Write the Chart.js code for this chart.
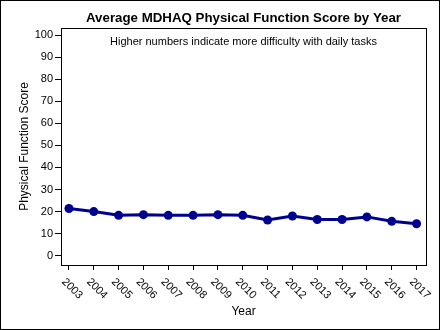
<!DOCTYPE html>
<html>
<head>
<meta charset="utf-8">
<script src="https://cdn.jsdelivr.net/npm/chart.js@4/dist/chart.umd.min.js"></script>
<style>
  html, body { margin: 0; padding: 0; background: #ffffff; }
  #wrap { width: 440px; height: 330px; position: relative; }
</style>
</head>
<body>
<div id="wrap"><canvas id="c" width="440" height="330"></canvas></div>
<script>
// Yearly averages of the MDHAQ physical function score
const years = [2003, 2004, 2005, 2006, 2007, 2008, 2009, 2010, 2011, 2012, 2013, 2014, 2015, 2016, 2017];
const scores = [21.4, 20.0, 18.3, 18.6, 18.3, 18.3, 18.6, 18.3, 16.2, 18.0, 16.4, 16.4, 17.6, 15.6, 14.5];
const yTickValues = [0, 10, 20, 30, 40, 50, 60, 70, 80, 90, 100];

const FONT = '"Liberation Sans", Arial, Helvetica, sans-serif';
const LINE_COLOR = '#000090';

const titleText = 'Average MDHAQ Physical Function Score by Year';
const noteText = 'Higher numbers indicate more difficulty with daily tasks';

// Frame, outer border, titles and slanted year labels
const decorations = {
  id: 'decorations',
  afterDraw(chart) {
    const { ctx, chartArea: a, scales } = chart;
    ctx.save();
    // outer border of the graphic
    ctx.strokeStyle = '#000';
    ctx.lineWidth = 1;
    ctx.strokeRect(0.5, 0.5, chart.width - 1, chart.height - 1);
    // plot frame
    ctx.strokeRect(Math.round(a.left) + 0.5, Math.round(a.top) + 0.5,
                   Math.round(a.right - a.left), Math.round(a.bottom - a.top));
    const cx = (a.left + a.right) / 2;
    ctx.fillStyle = '#000';
    ctx.textAlign = 'center';
    ctx.textBaseline = 'alphabetic';
    ctx.font = 'bold 13.3px ' + FONT;
    ctx.fillText(titleText, cx, 21.5);
    ctx.font = '11px ' + FONT;
    ctx.fillText(noteText, cx, 45);
    // year labels, slanted downward
    ctx.font = '11px ' + FONT;
    ctx.textAlign = 'left';
    ctx.textBaseline = 'middle';
    const xs = scales.x;
    years.forEach(y => {
      const px = xs.getPixelForValue(y);
      ctx.save();
      ctx.translate(px - 5.5, 280);
      ctx.rotate(Math.PI / 4);
      ctx.fillText(String(y), 0, 0);
      ctx.restore();
    });
    ctx.restore();
  }
};

new Chart(document.getElementById('c'), {
  type: 'line',
  data: {
    datasets: [{
      data: years.map((y, i) => ({ x: y, y: scores[i] })),
      borderColor: LINE_COLOR,
      backgroundColor: LINE_COLOR,
      borderWidth: 3,
      pointRadius: 4.5,
      pointBorderWidth: 0,
      pointBackgroundColor: LINE_COLOR,
      tension: 0,
      fill: false
    }]
  },
  options: {
    responsive: false,
    animation: false,
    devicePixelRatio: 1,
    layout: { padding: { top: 28, right: 14, bottom: 1, left: 1 } },
    plugins: {
      legend: { display: false },
      tooltip: { enabled: false },
      title: { display: false }
    },
    scales: {
      x: {
        type: 'linear',
        min: 2002.68,
        max: 2017.38,
        offset: false,
        afterBuildTicks(scale) { scale.ticks = years.map(v => ({ value: v })); },
        afterFit(scale) { scale.height = 64; },
        ticks: { display: false },
        grid: { drawOnChartArea: false, drawTicks: true, tickLength: 5, color: '#000', tickColor: '#000' },
        border: { display: false },
        title: {
          display: true,
          text: 'Year',
          color: '#000',
          font: { family: FONT, size: 12 },
          padding: { top: 0, bottom: 10 }
        }
      },
      y: {
        type: 'linear',
        min: -4.2,
        max: 103.2,
        afterBuildTicks(scale) { scale.ticks = yTickValues.map(v => ({ value: v })); },
        afterFit(scale) { scale.width = 60; },
        ticks: {
          color: '#000',
          font: { family: FONT, size: 11 },
          padding: 2
        },
        grid: { drawOnChartArea: false, drawTicks: true, tickLength: 6, color: '#000', tickColor: '#000' },
        border: { display: false },
        title: {
          display: true,
          text: 'Physical Function Score',
          color: '#000',
          font: { family: FONT, size: 12 },
          padding: { top: 16, bottom: 0 }
        }
      }
    }
  },
  plugins: [decorations]
});
</script>
</body>
</html>
